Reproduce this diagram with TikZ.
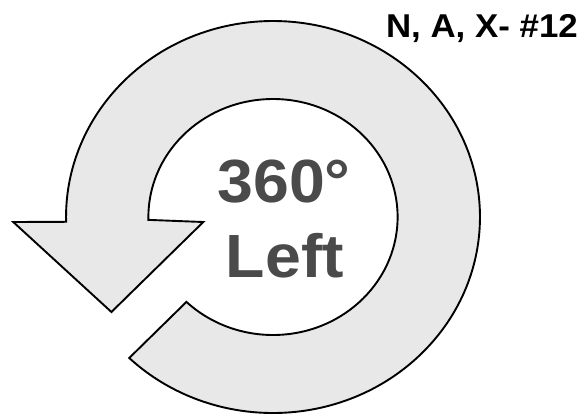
\documentclass[tikz,border=0pt]{standalone}
\usepackage{fontspec}
\setmainfont{Liberation Sans}
\usepackage{tikz}
\definecolor{band}{HTML}{E8E8E8}
\definecolor{ink}{HTML}{4A4A4A}

\begin{document}
\begin{tikzpicture}[x=1pt, y=1pt,
  ring/.style={draw=black, line width=1.9pt, fill=band, line join=miter},
  big/.style={inner sep=0pt, anchor=base, text=ink, xscale=1.056, font=\fontsize{61}{61}\selectfont\bfseries},
  tag/.style={inner sep=0pt, anchor=base east, xscale=1.056, font=\fontsize{33}{33}\selectfont\bfseries}]
  \useasboundingbox (0,0) rectangle (581,-416);
  \coordinate (c) at (273,-217);
  \begin{scope}[shift={(c)}, xscale=1.056]
    \draw[ring] (226:196) arc[start angle=226, end angle=541.4, radius=196]
      -- (-246,-5) -- (-153,-95) -- (-66,-5)
      -- (181.4:118) arc[start angle=181.4, end angle=-134, radius=118] -- cycle;
  \end{scope}
  \node[big] (deg) at (284,-202) {360°};
  \node[big] (dir) at (285,-277) {Left};
  \node[tag] (code) at (578,-37) {N, A, X- \#12};
\end{tikzpicture}
\end{document}
